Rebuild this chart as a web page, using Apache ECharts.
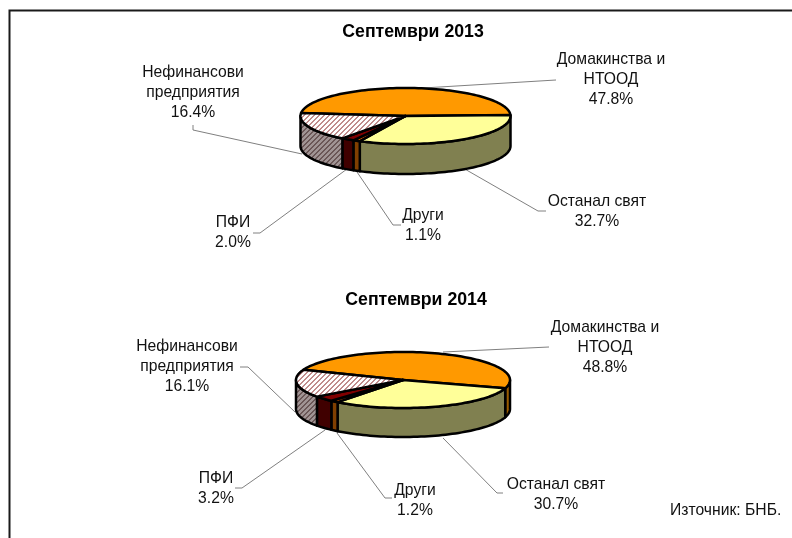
<!DOCTYPE html>
<html>
<head>
<meta charset="utf-8">
<script src="https://cdn.jsdelivr.net/npm/echarts@6/dist/echarts.min.js"></script>
<style>
  html, body { margin: 0; padding: 0; background: #fff; }
  #chart { width: 792px; height: 538px; }
</style>
</head>
<body>
<div id="chart"></div>
<script>
/* ── data ── */
const sliceNames = [["Домакинства и", "НТООД"], ["Останал свят"], ["Други"], ["ПФИ"], ["Нефинансови", "предприятия"]];
const values2013 = [47.8, 32.7, 1.1, 2.0, 16.4];
const values2014 = [48.8, 30.7, 1.2, 3.2, 16.1];
const title2013 = "Септември 2013";
const title2014 = "Септември 2014";
const sourceNote = "Източник: БНБ.";

/* ── colours: top face / side face ── */
const FONT = '"Liberation Sans", Arial, sans-serif';
const LEADER = "#808080";

function stripes(a, b) {
  // tile for the hatched slice
  const c = document.createElement("canvas");
  c.width = c.height = 5;
  const ctx = c.getContext("2d");
  for (let x = 0; x < 5; x++) {
    for (let y = 0; y < 5; y++) {
      ctx.fillStyle = (x + y) % 5 < 3 ? a : b;
      ctx.fillRect(x, y, 1, 1);
    }
  }
  return { image: c, repeat: "repeat" };
}
const topFills = ["#FF9900", "#FFFF99", "#FF6600", "#800000", stripes("#FFFFFF", "#C08C8C")];
const sideFills = ["#995C00", "#808050", "#803F00", "#400000", stripes("#A09494", "#6A5656")];

/* ── pie geometry ── */
const pie2013 = { cx: 405.5, cy: 116, rx: 105, ry: 28, depth: 30, start: 276 };
const pie2014 = { cx: 403, cy: 380, rx: 107, ry: 28, depth: 29, start: 291.5 };

function pt(g, deg, dy) {
  const r = (deg * Math.PI) / 180;
  return [g.cx + g.rx * Math.sin(r), g.cy - g.ry * Math.cos(r) + (dy || 0)];
}
function arc(g, a, b, dy) {
  const n = Math.max(2, Math.ceil(Math.abs(b - a) / 2));
  const out = [];
  for (let i = 0; i <= n; i++) out.push(pt(g, a + ((b - a) * i) / n, dy));
  return out;
}

function pieSeries(name, values, g) {
  const edge = { stroke: "#000", lineWidth: 2.5, lineJoin: "round" };
  return {
    name,
    type: "custom",
    coordinateSystem: "none",
    silent: true,
    data: values.map((v) => [v]),
    renderItem(params, api) {
      const i = params.dataIndex;
      const before = values.slice(0, i).reduce((s, v) => s + v, 0);
      const a = g.start + (before / 100) * 360;
      const b = a + (api.value(0) / 100) * 360;
      const children = [];
      // only the front half of the wall can be seen
      [[90, 270], [450, 630], [-270, -90]].forEach(([lo, hi]) => {
        const s = Math.max(a, lo);
        const e = Math.min(b, hi);
        if (e <= s) return;
        const pts = arc(g, s, e, 0).concat(arc(g, e, s, g.depth));
        children.push({
          type: "polygon",
          z2: 1,
          shape: { points: pts },
          style: { fill: sideFills[i], ...edge },
        });
      });
      children.push({
        type: "polygon",
        z2: 2,
        shape: { points: [[g.cx, g.cy]].concat(arc(g, a, b, 0)) },
        style: { fill: topFills[i], ...edge },
      });
      return { type: "group", children };
    },
  };
}

/* ── labels ── */
function labelLines(names, value) {
  return names.concat([value.toFixed(1) + "%"]);
}
// centre x, first line y per slice
const labelPos2013 = [[611, 60], [597, 202], [423, 216], [233, 223], [193, 73]];
const labelPos2014 = [[605, 328], [556, 485], [415, 491], [216, 479], [187, 347]];

const leaders = [
  [[423, 88], [556, 80]],
  [[463, 168], [538, 211], [546, 211]],
  [[357, 172], [393, 225], [401, 225]],
  [[347, 169], [260, 233], [253, 233]],
  [[193, 125], [193, 130], [302, 154]],
  [[443, 352], [549, 347]],
  [[443, 438], [497, 493], [503, 493]],
  [[337, 433], [385, 498], [392, 498]],
  [[325, 430], [242, 488], [235, 488]],
  [[240, 367], [248, 367], [295, 412]],
];

const graphic = [
  // chart frame
  { type: "polyline", silent: true, shape: { points: [[9.5, 538], [9.5, 10.5], [792, 10.5]] },
    style: { stroke: "#1a1a1a", lineWidth: 2, fill: null } },
];
leaders.forEach((points) => {
  graphic.push({ type: "polyline", silent: true, shape: { points },
    style: { stroke: LEADER, lineWidth: 1, fill: null } });
});
function addLabels(positions, values) {
  positions.forEach(([x, y], i) => {
    labelLines(sliceNames[i], values[i]).forEach((line, k) => {
      graphic.push({ type: "text", silent: true, x, y: y + k * 19.7,
        style: { text: line, fill: "#111", font: "15.7px " + FONT, align: "center", verticalAlign: "middle" } });
    });
  });
}
addLabels(labelPos2013, values2013);
addLabels(labelPos2014, values2014);
graphic.push({ type: "text", silent: true, x: 670, y: 511,
  style: { text: sourceNote, fill: "#111", font: "15.7px " + FONT, align: "left", verticalAlign: "middle" } });

const titleStyle = { fontFamily: FONT, fontSize: 17.7, fontWeight: "bold", color: "#000" };

const chart = echarts.init(document.getElementById("chart"));
chart.setOption({
  backgroundColor: "#fff",
  animation: false,
  title: [
    { text: title2013, left: 413, top: 32, textAlign: "center", textVerticalAlign: "middle", padding: 0, textStyle: titleStyle },
    { text: title2014, left: 416, top: 300, textAlign: "center", textVerticalAlign: "middle", padding: 0, textStyle: titleStyle },
  ],
  series: [pieSeries("2013", values2013, pie2013), pieSeries("2014", values2014, pie2014)],
  graphic,
});
</script>
</body>
</html>
